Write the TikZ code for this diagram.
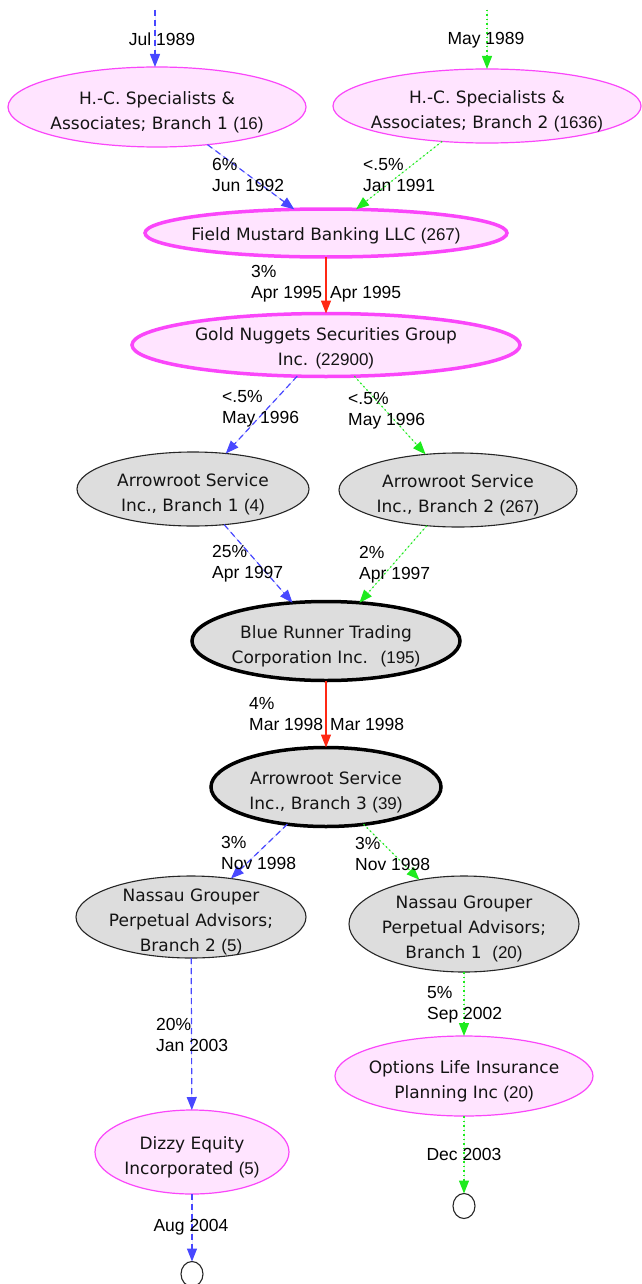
\documentclass[tikz,border=0pt]{standalone}
\usepackage{fontspec}
\setmainfont{DejaVu Sans}
\newfontfamily\lblfont{Liberation Sans}
\usetikzlibrary{shapes.geometric,arrows.meta}
\definecolor{cBlue}{RGB}{72,72,255}
\definecolor{cGreen}{RGB}{30,235,30}
\definecolor{cRed}{RGB}{255,40,20}
\definecolor{cMag}{RGB}{250,70,250}
\definecolor{cPink}{RGB}{255,228,255}
\definecolor{cGray}{RGB}{221,221,221}
\newcommand{\cntf}[1]{{\lblfont #1}}
\begin{document}
\begin{tikzpicture}[x=1pt,y=-1pt,
  ntext/.style={font=\fontsize{17}{25}\selectfont, align=center, inner sep=0pt, text=black!92, yshift=-5pt},
  ell/.style={ellipse, inner sep=0pt, outer sep=0pt},
  pinkE/.style={ell, draw=cMag, fill=cPink, line width=1.2pt},
  pinkT/.style={ell, draw=cMag, fill=cPink, line width=3.5pt},
  grayE/.style={ell, draw=black!85, fill=cGray, line width=1.1pt},
  grayT/.style={ell, draw=black, fill=cGray, line width=3.5pt},
  endc/.style={ell, draw=black!85, fill=white, line width=1.1pt, minimum width=22pt, minimum height=25pt},
  tip/.style={-{Triangle[length=13pt,width=10pt]}},
  blueE/.style={tip, draw=cBlue, fill=cBlue, line width=1.2pt, dash pattern=on 6pt off 4pt},
  greenE/.style={tip, draw=cGreen, fill=cGreen, line width=1.2pt, dash pattern=on 1.5pt off 3pt},
  redE/.style={tip, draw=cRed, fill=cRed, line width=1.2pt},
  elbl/.style={font=\lblfont\fontsize{17.5}{21}\selectfont, align=left, inner sep=0pt, text=black}
]
\useasboundingbox (0,0) rectangle (641,1284);
\fill[white] (0,0) rectangle (641,1284);

% nodes
\node[pinkE, minimum width=298pt, minimum height=80pt,
  label={[ntext]center:{H.-C. Specialists \&\\Associates; Branch 1 \cntf{(16)}}}] (hc1) at (157,107) {};
\node[pinkE, minimum width=308pt, minimum height=74pt,
  label={[ntext]center:{H.-C. Specialists \&\\Associates; Branch 2 \cntf{(1636)}}}] (hc2) at (487,106) {};
\node[pinkT, minimum width=362pt, minimum height=48pt,
  label={[ntext, yshift=2pt]center:{Field Mustard Banking LLC \cntf{(267)}}}] (fm) at (326,233) {};
\node[pinkT, minimum width=388pt, minimum height=63pt,
  label={[ntext, yshift=1.5pt]center:{Gold Nuggets Securities Group\\Inc. \cntf{(22900)}}}] (gn) at (326,345) {};
\node[grayE, minimum width=232pt, minimum height=74pt,
  label={[ntext]center:{Arrowroot Service\\Inc., Branch 1 \cntf{(4)}}}] (ar1) at (193,489) {};
\node[grayE, minimum width=238pt, minimum height=74pt,
  label={[ntext]center:{Arrowroot Service\\Inc., Branch 2 \cntf{(267)}}}] (ar2) at (458,490) {};
\node[grayT, minimum width=268pt, minimum height=79pt,
  label={[ntext]center:{Blue Runner Trading\\Corporation Inc.~ \cntf{(195)}}}] (br) at (326,641) {};
\node[grayT, minimum width=230pt, minimum height=79pt,
  label={[ntext]center:{Arrowroot Service\\Inc., Branch 3 \cntf{(39)}}}] (ar3) at (326,787) {};
\node[grayE, minimum width=230pt, minimum height=82pt,
  label={[ntext]center:{Nassau Grouper\\Perpetual Advisors;\\Branch 2 \cntf{(5)}}}] (n2) at (191,917) {};
\node[grayE, minimum width=230pt, minimum height=96pt,
  label={[ntext]center:{Nassau Grouper\\Perpetual Advisors;\\Branch 1~ \cntf{(20)}}}] (n1) at (464,924) {};
\node[pinkE, minimum width=258pt, minimum height=80pt,
  label={[ntext]center:{Options Life Insurance\\Planning Inc \cntf{(20)}}}] (ol) at (464,1076) {};
\node[pinkE, minimum width=194pt, minimum height=84pt,
  label={[ntext]center:{Dizzy Equity\\Incorporated \cntf{(5)}}}] (dz) at (192,1152) {};
\node[endc] (e1) at (464,1206) {};
\node[endc] (e2) at (192,1274) {};

\coordinate (t1) at (155,10);
\coordinate (t2) at (487,10);

% edges
\draw[blueE] (t1) -- (t1 |- hc1.north);
\draw[greenE] (t2) -- (t2 |- hc2.north);
\draw[blueE] (hc1) -- (fm);
\draw[greenE] (hc2) -- (fm);
\draw[redE] (fm) -- (gn);
\draw[blueE] (gn) -- (ar1);
\draw[greenE] (gn) -- (ar2);
\draw[blueE] (ar1) -- (br);
\draw[greenE] (ar2) -- (br);
\draw[redE] (br) -- (ar3);
\draw[blueE] (ar3) -- (n2);
\draw[greenE] (ar3) -- (n1);
\draw[blueE] (n2) -- (dz);
\draw[greenE] (n1) -- (ol);
\draw[greenE] (ol) -- (e1);
\draw[blueE] (dz) -- (e2);

% edge labels
\node[elbl] (lb1) at (162,39) {Jul 1989};
\node[elbl] (lb2) at (486,40) {May 1989};
\node[elbl, anchor=west] (lb3) at (212,175) {6\%\\Jun 1992};
\node[elbl, anchor=west] (lb4) at (363,175) {<.5\%\\Jan 1991};
\node[elbl, anchor=west] (lb5) at (251,284) {3\%\\Apr 1995};
\node[elbl, anchor=west] (lb6) at (330,294.5) {Apr 1995};
\node[elbl, anchor=west] (lb7) at (222,408.5) {<.5\%\\May 1996};
\node[elbl, anchor=west] (lb8) at (348,411) {<.5\%\\May 1996};
\node[elbl, anchor=west] (lb9) at (212,563.5) {25\%\\Apr 1997};
\node[elbl, anchor=west] (lb10) at (359,564.5) {2\%\\Apr 1997};
\node[elbl, anchor=west] (lb11) at (249,714.5) {4\%\\Mar 1998};
\node[elbl, anchor=west] (lb12) at (330,724.5) {Mar 1998};
\node[elbl, anchor=west] (lb13) at (221,852.5) {3\%\\Nov 1998};
\node[elbl, anchor=west] (lb14) at (355,853.5) {3\%\\Nov 1998};
\node[elbl, anchor=west] (lb15) at (156,1034.5) {20\%\\Jan 2003};
\node[elbl, anchor=west] (lb16) at (427,1004.5) {5\%\\Sep 2002};
\node[elbl] (lb17) at (464,1154.5) {Dec 2003};
\node[elbl] (lb18) at (191,1227.5) {Aug 2004};
\end{tikzpicture}
\end{document}
